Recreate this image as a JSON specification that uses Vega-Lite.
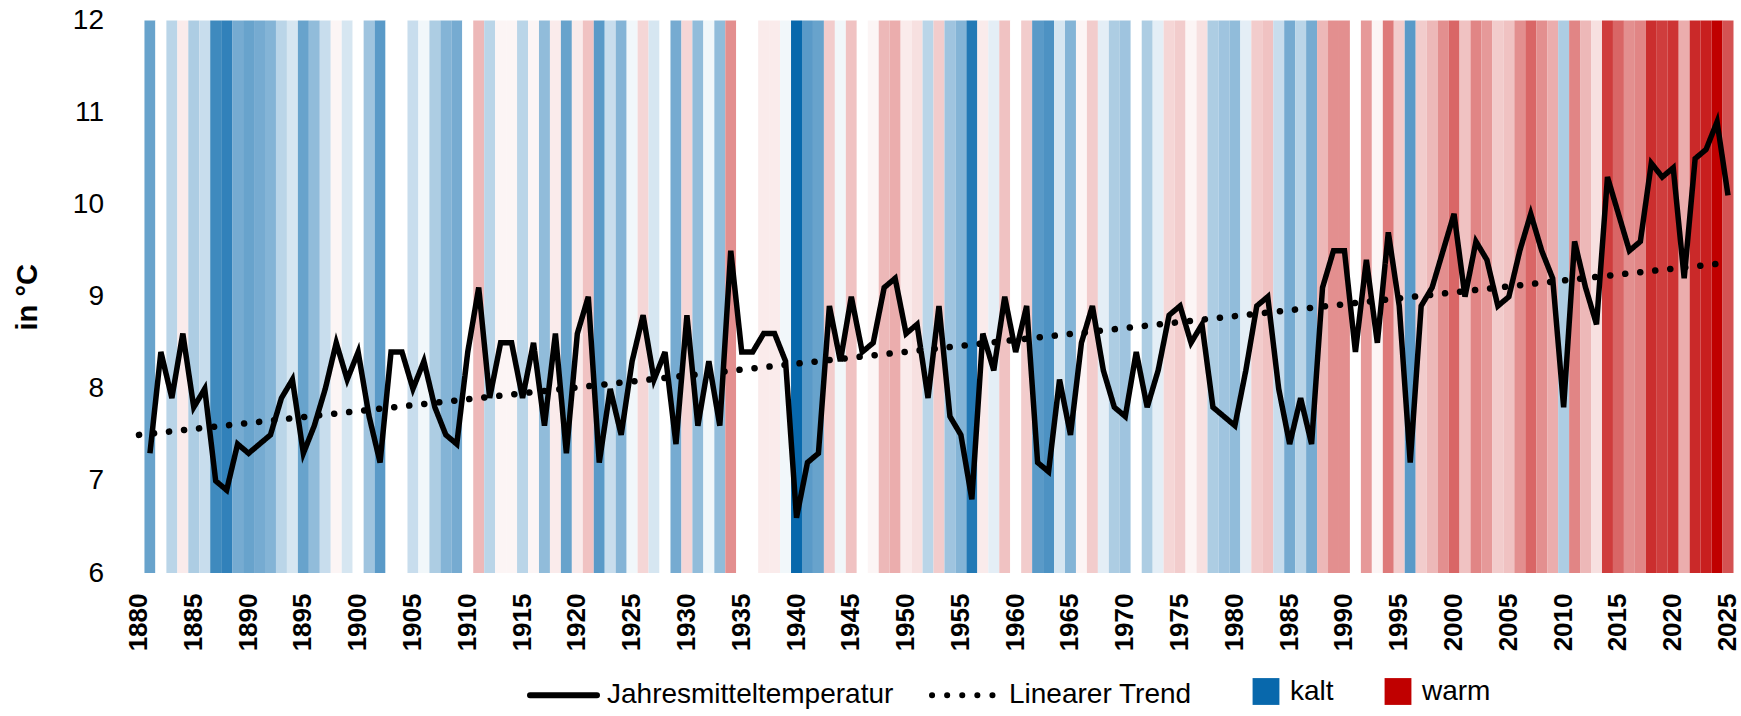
{
  "$schema": "https://vega.github.io/schema/vega-lite/v6.json",
  "width": 1600,
  "height": 552.5,
  "autosize": {"type": "none"},
  "padding": {"left": 133.5, "top": 20.5, "right": 7.5, "bottom": 143},
  "background": "white",
  "config": {"view": {"stroke": null}, "font": "Liberation Sans"},
  "datasets": {
    "jahre": [
      {"year": 1881, "temp": 7.3}, {"year": 1882, "temp": 8.4}, {"year": 1883, "temp": 7.9}, {"year": 1884, "temp": 8.6},
      {"year": 1885, "temp": 7.8}, {"year": 1886, "temp": 8.0}, {"year": 1887, "temp": 7.0}, {"year": 1888, "temp": 6.9},
      {"year": 1889, "temp": 7.4}, {"year": 1890, "temp": 7.3}, {"year": 1891, "temp": 7.4}, {"year": 1892, "temp": 7.5},
      {"year": 1893, "temp": 7.9}, {"year": 1894, "temp": 8.1}, {"year": 1895, "temp": 7.3}, {"year": 1896, "temp": 7.6},
      {"year": 1897, "temp": 8.0}, {"year": 1898, "temp": 8.5}, {"year": 1899, "temp": 8.1}, {"year": 1900, "temp": 8.4},
      {"year": 1901, "temp": 7.7}, {"year": 1902, "temp": 7.2}, {"year": 1903, "temp": 8.4}, {"year": 1904, "temp": 8.4},
      {"year": 1905, "temp": 8.0}, {"year": 1906, "temp": 8.3}, {"year": 1907, "temp": 7.8}, {"year": 1908, "temp": 7.5},
      {"year": 1909, "temp": 7.4}, {"year": 1910, "temp": 8.4}, {"year": 1911, "temp": 9.1}, {"year": 1912, "temp": 7.9},
      {"year": 1913, "temp": 8.5}, {"year": 1914, "temp": 8.5}, {"year": 1915, "temp": 7.9}, {"year": 1916, "temp": 8.5},
      {"year": 1917, "temp": 7.6}, {"year": 1918, "temp": 8.6}, {"year": 1919, "temp": 7.3}, {"year": 1920, "temp": 8.6},
      {"year": 1921, "temp": 9.0}, {"year": 1922, "temp": 7.2}, {"year": 1923, "temp": 8.0}, {"year": 1924, "temp": 7.5},
      {"year": 1925, "temp": 8.3}, {"year": 1926, "temp": 8.8}, {"year": 1927, "temp": 8.1}, {"year": 1928, "temp": 8.4},
      {"year": 1929, "temp": 7.4}, {"year": 1930, "temp": 8.8}, {"year": 1931, "temp": 7.6}, {"year": 1932, "temp": 8.3},
      {"year": 1933, "temp": 7.6}, {"year": 1934, "temp": 9.5}, {"year": 1935, "temp": 8.4}, {"year": 1936, "temp": 8.4},
      {"year": 1937, "temp": 8.6}, {"year": 1938, "temp": 8.6}, {"year": 1939, "temp": 8.3}, {"year": 1940, "temp": 6.6},
      {"year": 1941, "temp": 7.2}, {"year": 1942, "temp": 7.3}, {"year": 1943, "temp": 8.9}, {"year": 1944, "temp": 8.3},
      {"year": 1945, "temp": 9.0}, {"year": 1946, "temp": 8.4}, {"year": 1947, "temp": 8.5}, {"year": 1948, "temp": 9.1},
      {"year": 1949, "temp": 9.2}, {"year": 1950, "temp": 8.6}, {"year": 1951, "temp": 8.7}, {"year": 1952, "temp": 7.9},
      {"year": 1953, "temp": 8.9}, {"year": 1954, "temp": 7.7}, {"year": 1955, "temp": 7.5}, {"year": 1956, "temp": 6.8},
      {"year": 1957, "temp": 8.6}, {"year": 1958, "temp": 8.2}, {"year": 1959, "temp": 9.0}, {"year": 1960, "temp": 8.4},
      {"year": 1961, "temp": 8.9}, {"year": 1962, "temp": 7.2}, {"year": 1963, "temp": 7.1}, {"year": 1964, "temp": 8.1},
      {"year": 1965, "temp": 7.5}, {"year": 1966, "temp": 8.5}, {"year": 1967, "temp": 8.9}, {"year": 1968, "temp": 8.2},
      {"year": 1969, "temp": 7.8}, {"year": 1970, "temp": 7.7}, {"year": 1971, "temp": 8.4}, {"year": 1972, "temp": 7.8},
      {"year": 1973, "temp": 8.2}, {"year": 1974, "temp": 8.8}, {"year": 1975, "temp": 8.9}, {"year": 1976, "temp": 8.5},
      {"year": 1977, "temp": 8.7}, {"year": 1978, "temp": 7.8}, {"year": 1979, "temp": 7.7}, {"year": 1980, "temp": 7.6},
      {"year": 1981, "temp": 8.2}, {"year": 1982, "temp": 8.9}, {"year": 1983, "temp": 9.0}, {"year": 1984, "temp": 8.0},
      {"year": 1985, "temp": 7.4}, {"year": 1986, "temp": 7.9}, {"year": 1987, "temp": 7.4}, {"year": 1988, "temp": 9.1},
      {"year": 1989, "temp": 9.5}, {"year": 1990, "temp": 9.5}, {"year": 1991, "temp": 8.4}, {"year": 1992, "temp": 9.4},
      {"year": 1993, "temp": 8.5}, {"year": 1994, "temp": 9.7}, {"year": 1995, "temp": 8.9}, {"year": 1996, "temp": 7.2},
      {"year": 1997, "temp": 8.9}, {"year": 1998, "temp": 9.1}, {"year": 1999, "temp": 9.5}, {"year": 2000, "temp": 9.9},
      {"year": 2001, "temp": 9.0}, {"year": 2002, "temp": 9.6}, {"year": 2003, "temp": 9.4}, {"year": 2004, "temp": 8.9},
      {"year": 2005, "temp": 9.0}, {"year": 2006, "temp": 9.5}, {"year": 2007, "temp": 9.9}, {"year": 2008, "temp": 9.5},
      {"year": 2009, "temp": 9.2}, {"year": 2010, "temp": 7.8}, {"year": 2011, "temp": 9.6}, {"year": 2012, "temp": 9.1},
      {"year": 2013, "temp": 8.7}, {"year": 2014, "temp": 10.3}, {"year": 2015, "temp": 9.9}, {"year": 2016, "temp": 9.5},
      {"year": 2017, "temp": 9.6}, {"year": 2018, "temp": 10.45}, {"year": 2019, "temp": 10.3}, {"year": 2020, "temp": 10.4},
      {"year": 2021, "temp": 9.2}, {"year": 2022, "temp": 10.5}, {"year": 2023, "temp": 10.6}, {"year": 2024, "temp": 10.9},
      {"year": 2025, "temp": 10.1}
    ],
    "trend": [
      {"year": 1880, "temp": 7.5},
      {"year": 2025, "temp": 9.37}
    ],
    "klassen": [
      {"art": "kalt"},
      {"art": "warm"}
    ]
  },
  "layer": [
    {
      "data": {"name": "jahre"},
      "mark": {"type": "rect"},
      "encoding": {
        "x": {
          "field": "year",
          "type": "ordinal",
          "scale": {"paddingInner": 0, "paddingOuter": 0},
          "axis": {
            "values": [1880, 1885, 1890, 1895, 1900, 1905, 1910, 1915, 1920, 1925, 1930, 1935, 1940, 1945, 1950, 1955, 1960, 1965, 1970, 1975, 1980, 1985, 1990, 1995, 2000, 2005, 2010, 2015, 2020, 2025],
            "labelAngle": -90,
            "labelFontWeight": "bold",
            "labelFontSize": 26,
            "labelFont": "Liberation Sans",
            "labelColor": "black",
            "labelOverlap": false,
            "labelBound": false,
            "ticks": false,
            "domain": false,
            "grid": false,
            "labelPadding": 20,
            "title": null
          }
        },
        "fill": {
          "field": "temp",
          "type": "quantitative",
          "scale": {"domain": [6.6, 8.4, 10.9], "range": ["#0868AC", "#FFFFFF", "#C00000"], "interpolate": "rgb", "clamp": true},
          "legend": null
        }
      }
    },
    {
      "data": {"name": "klassen"},
      "mark": {"type": "rect", "opacity": 0},
      "encoding": {
        "color": {
          "field": "art",
          "type": "nominal",
          "scale": {"domain": ["kalt", "warm"], "range": ["#0868AC", "#C00000"]},
          "legend": {
            "orient": "none",
            "legendX": 1118.5,
            "legendY": 657,
            "direction": "horizontal",
            "title": null,
            "symbolType": "square",
            "symbolSize": 720,
            "symbolOpacity": 1,
            "symbolStrokeWidth": 0,
            "labelFontSize": 28,
            "labelFont": "Liberation Sans",
            "labelColor": "black",
            "labelLimit": 0,
            "labelOffset": 10,
            "columnPadding": 50,
            "padding": 0
          }
        }
      }
    },
    {
      "encoding": {
        "x": {"field": "year", "type": "ordinal"},
        "y": {
          "field": "temp",
          "type": "quantitative",
          "scale": {"domain": [6, 12], "nice": false, "zero": false},
          "axis": {
            "values": [6, 7, 8, 9, 10, 11, 12],
            "grid": false,
            "ticks": false,
            "domain": false,
            "labelFontSize": 28,
            "labelFont": "Liberation Sans",
            "labelColor": "black",
            "labelPadding": 30,
            "title": "in °C",
            "titleFontSize": 29,
            "titleFont": "Liberation Sans",
            "titleFontWeight": "bold",
            "titleColor": "black",
            "titlePadding": 30
          }
        }
      },
      "layer": [
        {
          "data": {"name": "jahre"},
          "mark": {"type": "line", "color": "black", "strokeWidth": 5.5},
          "encoding": {
            "strokeDash": {
              "datum": "Jahresmitteltemperatur",
              "type": "nominal",
              "scale": {"domain": ["Jahresmitteltemperatur", "Linearer Trend"], "range": [[1, 0], [0.1, 15]]},
              "legend": {
                "orient": "none",
                "legendX": 393.5,
                "legendY": 638,
                "direction": "horizontal",
                "title": null,
                "symbolType": "stroke",
                "symbolSize": 4489,
                "symbolStrokeWidth": 6,
                "symbolStrokeColor": "black",
                "labelFontSize": 28,
                "labelFont": "Liberation Sans",
                "labelColor": "black",
                "labelLimit": 0,
                "labelOffset": 7,
                "columnPadding": 26,
                "padding": 0,
                "encode": {"symbols": {"update": {"strokeCap": {"value": "round"}}}}
              }
            }
          }
        },
        {
          "data": {"name": "trend"},
          "mark": {"type": "line", "color": "black", "strokeWidth": 6.5, "strokeCap": "round"},
          "encoding": {
            "strokeDash": {"datum": "Linearer Trend", "type": "nominal"}
          }
        }
      ]
    }
  ]
}
